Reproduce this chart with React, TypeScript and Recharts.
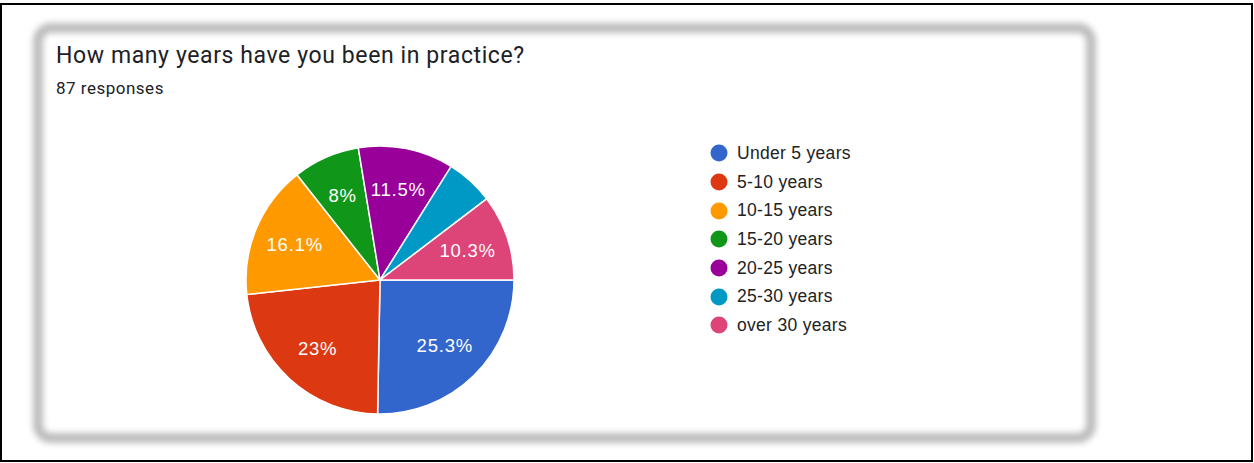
import { PieChart, Pie, Cell, Legend } from "recharts";

const categories = [
  "Under 5 years",
  "5-10 years",
  "10-15 years",
  "15-20 years",
  "20-25 years",
  "25-30 years",
  "over 30 years",
];
const responses = [22, 20, 14, 7, 10, 5, 9];
const colors = ["#3366cc", "#dc3912", "#ff9900", "#109618", "#990099", "#0099c6", "#dd4477"];

const title = "How many years have you been in practice?";
const subtitle = "87 responses";

const data = categories.map((name, i) => ({ name, value: responses[i] }));

const RADIAN = Math.PI / 180;

const renderLabel = (props: any) => {
  const { cx, cy, midAngle, outerRadius, percent } = props;
  if (percent < 0.06) return null;
  const r = outerRadius * 0.69;
  const x = cx + r * Math.cos(-midAngle * RADIAN);
  const y = cy + r * Math.sin(-midAngle * RADIAN);
  return (
    <text
      x={x}
      y={y}
      fill="#ffffff"
      textAnchor="middle"
      dominantBaseline="central"
      fontSize={18.5}
      letterSpacing={0.8}
      fontFamily="'Liberation Sans', Arial, sans-serif"
    >
      {Number((percent * 100).toFixed(1)) + "%"}
    </text>
  );
};

const renderLegend = () => (
  <div style={{ fontFamily: "'Liberation Sans', Arial, sans-serif" }}>
    {categories.map((c, i) => (
      <div key={c} style={{ display: "flex", alignItems: "center", height: 28.7 }}>
        <svg width={18} height={18} style={{ marginRight: 9 }}>
          <circle cx={9} cy={9} r={8.5} fill={colors[i]} />
        </svg>
        <span style={{ fontSize: 17.5, letterSpacing: 0.3, color: "#222222" }}>{c}</span>
      </div>
    ))}
  </div>
);

export default function App() {
  return (
    <div style={{ position: "absolute", left: 0, top: 0, width: 1254, height: 463, background: "#fff", overflow: "hidden" }}>
      {/* blurred card outline */}
      <div
        style={{
          position: "absolute",
          left: 33,
          top: 23,
          width: 1063,
          height: 420,
          boxSizing: "border-box",
          border: "10px solid #bcbcbc",
          borderRadius: 18,
          filter: "blur(3px)",
        }}
      />
      <div
        style={{
          position: "absolute",
          left: 0,
          top: 3,
          width: 1253,
          height: 459,
          boxSizing: "border-box",
          border: "2px solid #000",
        }}
      />
      <div
        style={{
          position: "absolute",
          left: 56,
          top: 42,
          fontFamily: "Roboto, sans-serif",
          fontSize: 23,
          letterSpacing: 0.6,
          color: "#202124",
          whiteSpace: "nowrap",
        }}
      >
        {title}
      </div>
      <div
        style={{
          position: "absolute",
          left: 56,
          top: 78,
          fontFamily: "Roboto, sans-serif",
          fontSize: 17,
          letterSpacing: 0.5,
          color: "#202124",
        }}
      >
        {subtitle}
      </div>
      <div style={{ position: "absolute", left: 0, top: 0 }}>
        <PieChart width={1254} height={463} margin={{ top: 0, right: 0, bottom: 0, left: 0 }}>
          <Pie
            data={data}
            dataKey="value"
            nameKey="name"
            cx={380}
            cy={280}
            outerRadius={134}
            startAngle={0}
            endAngle={-360}
            stroke="#ffffff"
            strokeWidth={1.5}
            label={renderLabel}
            labelLine={false}
            isAnimationActive={false}
          >
            {data.map((d, i) => (
              <Cell key={d.name} fill={colors[i]} />
            ))}
          </Pie>
          <Legend
            layout="vertical"
            align="right"
            verticalAlign="top"
            content={renderLegend}
            wrapperStyle={{ left: 710, top: 139, width: 200 }}
          />
        </PieChart>
      </div>
    </div>
  );
}
